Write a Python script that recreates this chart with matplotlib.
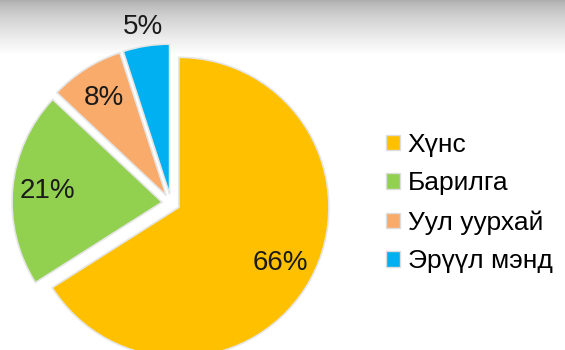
import numpy as np
import matplotlib
matplotlib.use("Agg")
import matplotlib.pyplot as plt
from matplotlib.patches import Patch

categories = ["Хүнс", "Барилга", "Уул уурхай", "Эрүүл мэнд"]
values = [66, 21, 8, 5]
colors = ["#FFC000", "#92D050", "#F9AB6C", "#00B0F0"]
explode = [0.06, 0.06, 0.06, 0.06]

plt.rcParams['font.family'] = ['Liberation Sans', 'DejaVu Sans']

W, H = 565, 350
fig = plt.figure(figsize=(W / 100, H / 100), dpi=100)

# top gray gradient background
bg = fig.add_axes([0, 0, 1, 1], zorder=0)
bg.set_axis_off()
grad = np.ones((H, 2))
band = 55
t = np.linspace(0, 1, band)
grad[:band, :] = (0.68 + 0.32 * t ** 0.7)[:, None]
bg.imshow(np.dstack([grad] * 3), aspect='auto', extent=[0, 1, 0, 1], origin='upper')

cx, cy, r = 171, 203, 150
ax = fig.add_axes([0, 0, 1, 1], zorder=1)
ax.patch.set_alpha(0)
wedges, texts, autotexts = ax.pie(
    values, colors=colors, explode=explode, startangle=90, counterclock=False,
    autopct='%1.0f%%', pctdistance=0.77,
    wedgeprops=dict(edgecolor='#e6e6e6', linewidth=1.2),
    textprops=dict(fontsize=20, color='#1a1a1a'))
ax.set_aspect('auto')
ax.set_xlim(-cx / r, (W - cx) / r)
ax.set_ylim(-(H - cy) / r, cy / r)
ax.set_axis_off()

# last (small) label placed outside its wedge
w = wedges[-1]
ang = np.deg2rad((w.theta1 + w.theta2) / 2)
autotexts[-1].set_position((w.center[0] + 1.13 * np.cos(ang), w.center[1] + 1.13 * np.sin(ang)))

handles = [Patch(facecolor=c, edgecolor='#dddddd', label=l) for c, l in zip(colors, categories)]
ax.legend(handles=handles, loc='center left', bbox_to_anchor=(386 / W, 1 - 203 / H),
          bbox_transform=fig.transFigure, frameon=False, fontsize=19,
          labelspacing=0.56, handlelength=0.52, handleheight=0.52, handletextpad=0.3,
          borderpad=0, borderaxespad=0)

fig.savefig("out.png", dpi=100)
